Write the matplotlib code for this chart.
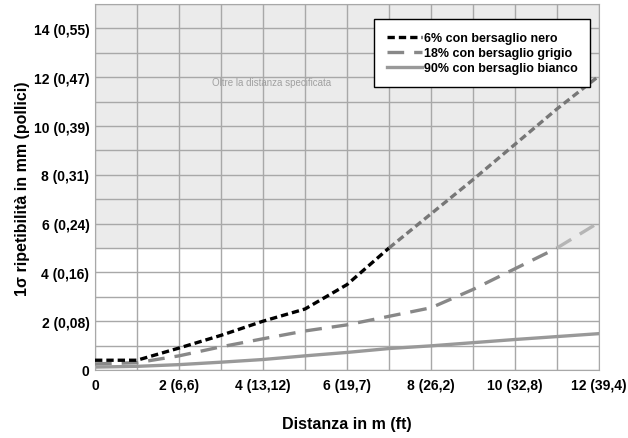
import numpy as np
import matplotlib
matplotlib.use("Agg")
import matplotlib.pyplot as plt

plt.rcParams['font.family'] = ['Liberation Sans Narrow', 'Liberation Sans', 'DejaVu Sans']

# distanza in m
dist = [0, 1, 2, 3, 4, 5, 6, 7, 8, 9, 10, 11, 12]
nero = [0.4, 0.4, 0.9, 1.42, 2.0, 2.5, 3.5, 5.0, 6.4, 7.8, 9.25, 10.7, 12.05]
grigio = [0.25, 0.3, 0.58, 0.95, 1.28, 1.6, 1.85, 2.2, 2.55, 3.3, 4.15, 5.0, 6.05]
bianco = [0.12, 0.15, 0.22, 0.32, 0.43, 0.58, 0.72, 0.88, 0.99, 1.12, 1.25, 1.37, 1.49]

limite = 5  # oltre la distanza specificata
k_nero = 7   # indice in cui la curva nera raggiunge il limite
k_grigio = 11

xticks = [0, 2, 4, 6, 8, 10, 12]
xlabels = ["0", "2 (6,6)", "4 (13,12)", "6 (19,7)", "8 (26,2)", "10 (32,8)", "12 (39,4)"]
yticks = [0, 2, 4, 6, 8, 10, 12, 14]
ylabels = ["0", "2 (0,08)", "4 (0,16)", "6 (0,24)", "8 (0,31)", "10 (0,39)", "12 (0,47)", "14 (0,55)"]

fig = plt.figure(figsize=(6.28, 4.39), dpi=100)
ax = fig.add_axes([0.1513, 0.1549, 0.8025, 0.8337])

ax.axhspan(limite, 15, color='#ebebeb', zorder=0)

l1, = ax.plot(dist[:k_nero + 1], nero[:k_nero + 1], color='black', lw=2.4,
              dashes=(2.2, 1.2), zorder=4, label="6% con bersaglio nero")
ax.plot(dist[k_nero:], nero[k_nero:], color='#777777', lw=2.4, dashes=(2.2, 1.2), zorder=4)

l2, = ax.plot(dist[:k_grigio + 1], grigio[:k_grigio + 1], color='#888888', lw=2.4,
              dashes=(5, 3), zorder=3, label="18% con bersaglio grigio")
ax.plot(dist[k_grigio:], grigio[k_grigio:], color='#b5b5b5', lw=2.4, dashes=(5, 3), zorder=3)

l3, = ax.plot(dist, bianco, color='#999999', lw=2.4, zorder=2, label="90% con bersaglio bianco")

ax.set_xlim(0, 12)
ax.set_ylim(0, 15)
ax.set_xticks(xticks)
ax.set_xticklabels(xlabels, fontsize=10, fontweight='bold')
ax.set_yticks(yticks)
ax.set_yticklabels(ylabels, fontsize=10, fontweight='bold')
ax.set_xticks(range(0, 13), minor=True)
ax.set_yticks(range(0, 16), minor=True)
ax.tick_params(which='both', length=0)
ax.tick_params(axis='x', pad=6)
ax.tick_params(axis='y', pad=4)
ax.grid(which='both', color='#a8a8a8', lw=1.0, zorder=1)
ax.set_axisbelow(True)
for s in ax.spines.values():
    s.set_color('#a8a8a8')

ax.text(4.2, 11.8, "Oltre la distanza specificata", color='#a0a0a0', fontsize=7,
        ha='center', va='center', family=['Liberation Sans', 'DejaVu Sans'])

leg = ax.legend(handles=[l1, l2, l3], loc='upper left', bbox_to_anchor=(0.554, 0.958),
                frameon=True, fancybox=False, edgecolor='black', framealpha=1,
                prop={'weight': 'bold', 'size': 9}, handlelength=2.8,
                handletextpad=0.15, labelspacing=0.25, borderpad=1.0, borderaxespad=0)
leg.get_frame().set_linewidth(1.0)

fig.text(0.036, 0.57, "1σ ripetibilità in mm (pollici)", rotation=90, fontsize=11.5,
         fontweight='bold', ha='center', va='center')
fig.text(0.553, 0.032, "Distanza in m (ft)", fontsize=11.5, fontweight='bold',
         ha='center', va='center')

fig.savefig("out.png", dpi=100)
